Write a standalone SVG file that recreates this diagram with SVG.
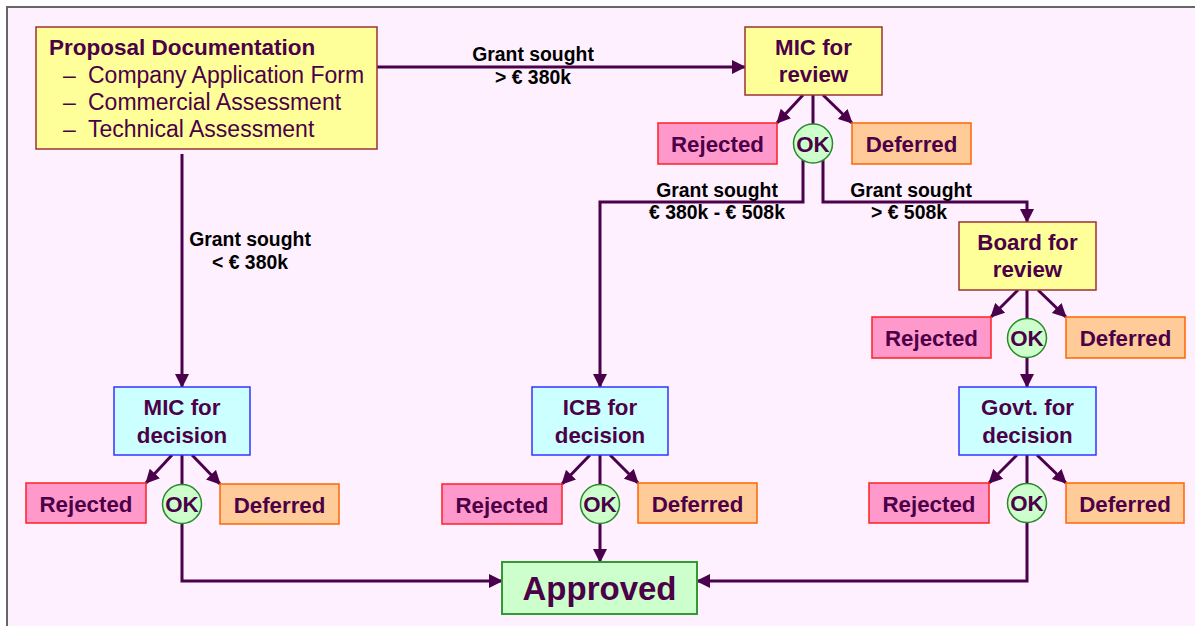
<svg xmlns="http://www.w3.org/2000/svg" width="1195" height="626" viewBox="0 0 1195 626">
<defs>
<marker id="arr" markerUnits="userSpaceOnUse" viewBox="0 0 14 14" refX="13" refY="7" markerWidth="14" markerHeight="14" orient="auto">
<path d="M0,0 L14,7 L0,14 z" fill="#4B004B"/>
</marker>
<style>
.bg{fill:#FFF0FF}
.frame{stroke:#666;stroke-width:2;fill:none}
.conn{stroke:#4B004B;stroke-width:3;fill:none}
.arr{marker-end:url(#arr)}
.yellow{fill:#FFFF99;stroke:#993333;stroke-width:1.5}
.blue{fill:#CCFFFF;stroke:#3333FF;stroke-width:1.5}
.rej{fill:#FF99CC;stroke:#FF2020;stroke-width:1.5}
.def{fill:#FFCC99;stroke:#FF6600;stroke-width:1.5}
.ok{fill:#CCFFCC;stroke:#2A8A2A;stroke-width:1.5}
.appr{fill:#CCFFCC;stroke:#339933;stroke-width:2}
text{font-family:"Liberation Sans",Arial,sans-serif;fill:#4B0048}
.nt{font-size:22.3px;font-weight:bold;text-anchor:middle}
.big{font-size:33px}
.pt{font-size:23px}
.pb{font-size:22.5px;font-weight:bold}
.lb{font-size:19.4px;font-weight:bold;fill:#000;text-anchor:middle}
</style>
</defs>
<rect x="0" y="0" width="1195" height="626" fill="#FFFFFF"/>
<rect class="bg" x="7" y="7" width="1188" height="619"/>
<path class="frame" d="M7,626 V7 H1195"/>

<g id="connectors">
<path class="conn arr" d="M377,67 H745"/>
<path class="conn arr" d="M182,154 V387"/>
<path class="conn arr" d="M803,95 L777,123"/>
<path class="conn arr" d="M823,95 L852,123"/>
<path class="conn" d="M813,95 V124"/>
<path class="conn arr" d="M803,160 V202 H600 V387"/>
<path class="conn arr" d="M823,160 V202 H1027 V222"/>
<path class="conn arr" d="M1018,290 L991,317"/>
<path class="conn arr" d="M1038,290 L1066,317"/>
<path class="conn" d="M1027,290 V318"/>
<path class="conn arr" d="M1027,358 V387"/>
<path class="conn arr" d="M1017,455 L989,483"/>
<path class="conn arr" d="M1037,455 L1066,483"/>
<path class="conn" d="M1027,455 V484"/>
<path class="conn arr" d="M1027,523 V581 H697"/>
<path class="conn arr" d="M172,455 L146,483"/>
<path class="conn arr" d="M192,455 L220,484"/>
<path class="conn" d="M182,455 V484"/>
<path class="conn arr" d="M182,523 V581 H502"/>
<path class="conn arr" d="M590,455 L562,484"/>
<path class="conn arr" d="M610,455 L638,483"/>
<path class="conn" d="M600,455 V484"/>
<path class="conn arr" d="M600,523 V562"/>
</g>

<g id="labels">
<text class="lb" x="533" y="61">Grant sought</text>
<text class="lb" x="533" y="84">&gt; € 380k</text>
<text class="lb" x="250" y="246">Grant sought</text>
<text class="lb" x="250" y="269">&lt; € 380k</text>
<text class="lb" x="717" y="197">Grant sought</text>
<text class="lb" x="717" y="219">€ 380k - € 508k</text>
<text class="lb" x="911" y="197">Grant sought</text>
<text class="lb" x="909" y="219">&gt; € 508k</text>
</g>

<g id="proposal">
<rect class="yellow" x="36" y="27" width="341" height="122"/>
<text class="pb" x="49" y="55">Proposal Documentation</text>
<text class="pt" x="63" y="83">–</text><text class="pt" x="88" y="83">Company Application Form</text>
<text class="pt" x="63" y="110">–</text><text class="pt" x="88" y="110">Commercial Assessment</text>
<text class="pt" x="63" y="137">–</text><text class="pt" x="88" y="137">Technical Assessment</text>
</g>

<g id="mic-review">
<rect class="yellow" x="745" y="27" width="137" height="68"/>
<text class="nt" x="813.5" y="55">MIC for</text>
<text class="nt" x="813.5" y="82">review</text>
</g>
<g id="mic-review-rejected"><rect class="rej" x="658" y="123" width="119" height="41"/><text class="nt" x="717.5" y="152">Rejected</text></g>
<g id="mic-review-ok"><circle class="ok" cx="813" cy="143.5" r="19.5"/><text class="nt" x="813" y="151.5">OK</text></g>
<g id="mic-review-deferred"><rect class="def" x="852" y="123" width="119" height="41"/><text class="nt" x="911.5" y="152">Deferred</text></g>

<g id="board-review">
<rect class="yellow" x="959" y="222" width="137" height="68"/>
<text class="nt" x="1027.5" y="250">Board for</text>
<text class="nt" x="1027.5" y="277">review</text>
</g>
<g id="board-rejected"><rect class="rej" x="872" y="317" width="119" height="41"/><text class="nt" x="931.5" y="346">Rejected</text></g>
<g id="board-ok"><circle class="ok" cx="1027" cy="338" r="19.5"/><text class="nt" x="1027" y="346">OK</text></g>
<g id="board-deferred"><rect class="def" x="1066" y="317" width="119" height="41"/><text class="nt" x="1125.5" y="346">Deferred</text></g>

<g id="mic-decision">
<rect class="blue" x="114" y="387" width="136" height="68"/>
<text class="nt" x="182" y="415">MIC for</text>
<text class="nt" x="182" y="443">decision</text>
</g>
<g id="mic-dec-rejected"><rect class="rej" x="26" y="483" width="120" height="40"/><text class="nt" x="86" y="512">Rejected</text></g>
<g id="mic-dec-ok"><circle class="ok" cx="182" cy="504" r="19.5"/><text class="nt" x="182" y="512">OK</text></g>
<g id="mic-dec-deferred"><rect class="def" x="220" y="484" width="119" height="40"/><text class="nt" x="279.5" y="513">Deferred</text></g>

<g id="icb-decision">
<rect class="blue" x="532" y="387" width="136" height="68"/>
<text class="nt" x="600" y="415">ICB for</text>
<text class="nt" x="600" y="443">decision</text>
</g>
<g id="icb-rejected"><rect class="rej" x="442" y="484" width="120" height="40"/><text class="nt" x="502" y="513">Rejected</text></g>
<g id="icb-ok"><circle class="ok" cx="600" cy="504" r="19.5"/><text class="nt" x="600" y="512">OK</text></g>
<g id="icb-deferred"><rect class="def" x="638" y="483" width="119" height="40"/><text class="nt" x="697.5" y="512">Deferred</text></g>

<g id="govt-decision">
<rect class="blue" x="959" y="387" width="137" height="68"/>
<text class="nt" x="1027.5" y="415">Govt. for</text>
<text class="nt" x="1027.5" y="443">decision</text>
</g>
<g id="govt-rejected"><rect class="rej" x="869" y="483" width="120" height="40"/><text class="nt" x="929" y="512">Rejected</text></g>
<g id="govt-ok"><circle class="ok" cx="1027" cy="503" r="19.5"/><text class="nt" x="1027" y="511">OK</text></g>
<g id="govt-deferred"><rect class="def" x="1066" y="483" width="118" height="40"/><text class="nt" x="1125" y="512">Deferred</text></g>

<g id="approved">
<rect class="appr" x="502" y="562" width="195" height="52"/>
<text class="nt big" x="599.5" y="600">Approved</text>
</g>
</svg>
